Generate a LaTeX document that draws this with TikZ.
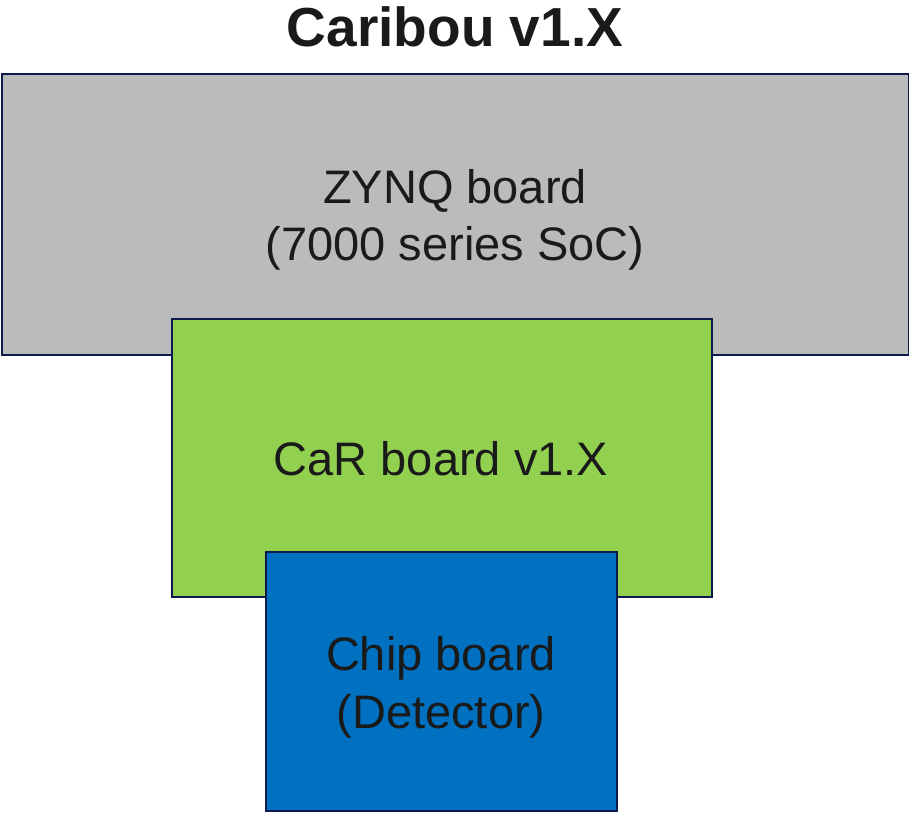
\documentclass[tikz,border=0pt]{standalone}
\usepackage{fontspec}
\setmainfont{Liberation Sans}
\definecolor{zgray}{HTML}{BBBBBB}
\definecolor{cgreen}{HTML}{92D050}
\definecolor{cblue}{HTML}{0070C0}
\definecolor{navy}{HTML}{0C1A4C}
\definecolor{txt}{HTML}{1A1A1A}
\begin{document}
\begin{tikzpicture}[x=1pt,y=-1pt,
  board/.style={draw=navy,line width=2pt},
  lbl/.style={anchor=base,text=txt,font=\fontsize{47}{57}\selectfont,inner sep=0pt}]
\useasboundingbox (0,0) rectangle (910,814);
\fill[white] (0,0) rectangle (910,814);
\node[anchor=base,text=txt,font=\fontsize{55}{60}\selectfont\bfseries,inner sep=0pt] (title) at (455,46) {Caribou v1.X};
\draw[board,fill=zgray,line width=1.5pt] (2,74) rectangle (908.5,355) coordinate (zc);
\node[lbl] (z1) at (455,203) {ZYNQ board};
\node[lbl] (z2) at (455,260) {(7000 series SoC)};
\draw[board,fill=cgreen] (172,319) rectangle (712,597);
\node[lbl] (c1) at (441,475) {CaR board v1.X};
\draw[board,fill=cblue] (266,552) rectangle (617,811);
\node[lbl] (d1) at (441,670) {Chip board};
\node[lbl] (d2) at (441,728) {(Detector)};
\end{tikzpicture}
\end{document}
